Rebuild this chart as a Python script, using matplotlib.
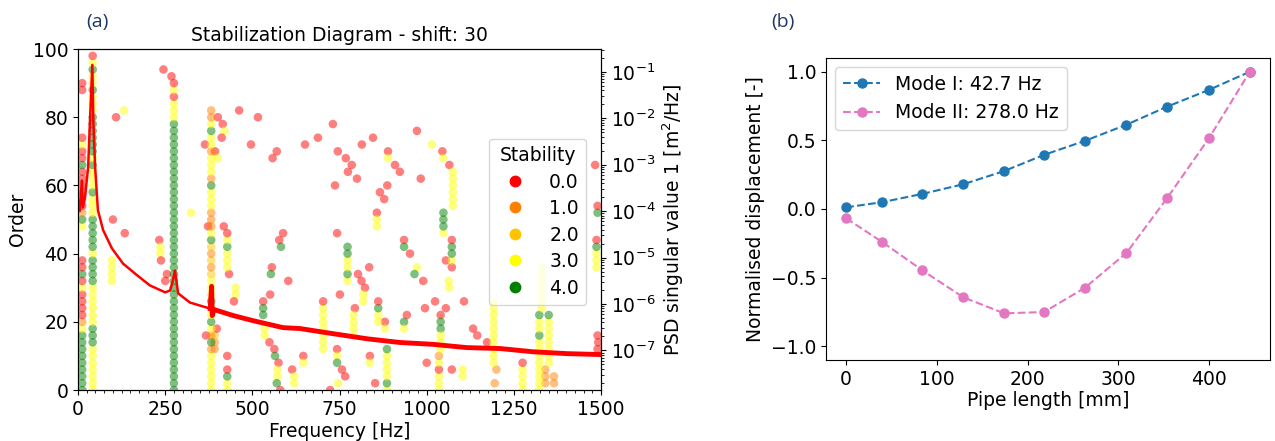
import numpy as np
import matplotlib
matplotlib.use('Agg')
import matplotlib.pyplot as plt
from matplotlib.lines import Line2D
from matplotlib.ticker import MultipleLocator, LogLocator, NullFormatter

# ---- (a) stabilization diagram data ----
stab_colors = ['red', '#ff8000', '#ffc400', 'yellow', 'green']
stab_labels = ['0.0', '1.0', '2.0', '3.0', '4.0']

# pole columns: frequency, first order, stability code per order step of 2 ('.' = no pole)
col_freq = [12, 42, 275, 382, 428, 428, 97, 703, 773, 861, 886, 1035, 1040,
            1048, 1075, 1192, 1275, 1323, 1350, 1487, 1330]
col_start = [0, 0, 0, 0, 0, 36, 32, 12, 32, 20, 0, 0, 12,
             46, 54, 8, 0, 0, 8, 36, 24]
col_codes = [
    "444444444" "31" "0000" "30400" "...." "34101" "0000" "40030" "......" "00",
    "3333333" "444" "333333" "4444" "3" "44444" "333" "4" "333" "4" "3" "444444" "333" "4" "33" "4" "3" "0",
    "4" * 40 + "33303" + "0",
    "333333" "1" "4" "1" "3" "4" "33" "4" "333" "21212" "4" "3" "111" "333" "4" "1" "33" "3" "1" "33" "4" "3" "11",
    "3340.0",
    "333430",
    "3333",
    "33333330",
    "343344",
    "3340",
    "3433334",
    "333031",
    "333",
    "3444",
    "333333",
    "3333333333",
    "33330",
    "333333334334",
    "33333334",
    "33340",
    "3333333",
]

# isolated poles: frequency, order, stability
pt_freq = [100, 134, 109, 132, 233, 236, 236, 238, 255, 250, 268, 245, 324,
           392, 392, 392, 367, 398, 373, 393, 364, 400, 401, 415, 420, 412,
           418, 433, 452, 452, 447, 462, 516, 496, 570, 558, 651, 688,
           731, 745, 768, 785, 774, 800, 737, 814, 846,
           972, 1015, 1045, 889, 889, 909, 923, 983, 887, 866, 878, 857, 857, 857,
           588, 577, 582, 603, 556, 553, 551, 531, 531, 531, 535, 535, 549, 563, 565,
           575, 572, 572, 570, 580, 614, 620, 620, 646, 646,
           743, 803, 813, 823, 835, 818, 818, 794, 790, 790, 790, 790, 751, 743, 743,
           743, 757, 766, 746, 723, 880, 880, 852, 837, 837,
           935, 935, 952, 972, 965, 990, 995, 943, 935, 935, 1000,
           1024, 1040, 1040, 1040, 1047, 1065,
           1072, 1055, 1072, 1072, 1072, 1072, 1063, 1065, 1055,
           1072, 1103, 1103, 1107, 1133, 1145, 1200, 1195, 1173,
           1340, 1340, 1340, 1365, 1365, 1490, 1490, 1483, 1490, 1492, 1490]
pt_order = [50, 46, 80, 82, 44, 42, 40, 38, 34, 32, 92, 94, 52,
            12, 14, 16, 16, 18, 48, 70, 72, 68, 80, 78, 76, 74,
            48, 34, 28, 30, 26, 82, 80, 72, 70, 68, 72, 74,
            78, 70, 68, 66, 64, 62, 60, 72, 74,
            76, 72, 70, 70, 68, 66, 64, 62, 60, 58, 56, 52, 50, 48,
            46, 44, 42, 32, 36, 34, 28, 26, 24, 22, 18, 16, 14, 12, 10,
            8, 6, 4, 2, 0, 6, 4, 2, 10, 8,
            46, 34, 32, 30, 36, 28, 26, 24, 22, 20, 18, 16, 28, 12, 10,
            8, 6, 4, 2, 0, 20, 18, 2, 10, 8,
            44, 42, 40, 36, 34, 32, 24, 22, 20, 18, 8,
            26, 22, 20, 18, 68, 66,
            36, 38, 38, 40, 42, 44, 32, 30, 24,
            6, 4, 6, 26, 18, 16, 6, 2, 14,
            2, 4, 6, 2, 4, 52, 54, 66, 12, 14, 16]
pt_stab = [0, 0, 0, 3, 0, 3, 3, 0, 0, 0, 0, 0, 3,
           1, 1, 2, 0, 0, 0, 0, 0, 3, 0, 0, 3, 0,
           0, 0, 3, 3, 0, 0, 0, 0, 0, 0, 0, 0,
           0, 0, 0, 0, 0, 0, 0, 0, 0,
           0, 3, 0, 0, 3, 0, 0, 0, 0, 0, 0, 0, 3, 3,
           0, 0, 4, 0, 0, 4, 0, 0, 4, 4, 3, 3, 0, 0, 4,
           0, 3, 3, 4, 0, 0, 3, 3, 0, 3,
           0, 0, 0, 0, 0, 3, 3, 0, 3, 3, 3, 3, 0, 0, 3,
           4, 0, 0, 3, 0, 0, 3, 0, 0, 3,
           0, 4, 0, 3, 4, 0, 0, 0, 4, 3, 0,
           0, 0, 4, 4, 3, 0,
           0, 0, 3, 4, 4, 0, 3, 3, 0,
           0, 3, 3, 0, 0, 0, 1, 1, 0,
           1, 1, 1, 1, 1, 4, 0, 0, 0, 0, 0]

# PSD first singular value (log10 of value)
psd_freq = [0, 5, 11, 14, 20, 29, 34, 41, 44, 49, 57, 72, 97, 129, 169, 206,
            250, 264, 272, 278, 287, 321, 379, 383, 385, 390, 445, 502, 588,
            637, 731, 829, 923, 1018, 1115, 1210, 1305, 1402, 1500]
psd_log = [-3.76, -4.0, -3.34, -3.92, -3.70, -3.05, -2.10, -0.85, -2.10, -3.05,
           -3.98, -4.41, -4.80, -5.13, -5.38, -5.60, -5.75, -5.71, -5.50, -5.28,
           -5.77, -5.97, -6.10, -5.62, -6.25, -6.12, -6.25, -6.36, -6.51,
           -6.53, -6.64, -6.75, -6.83, -6.87, -6.94, -6.96, -7.03, -7.07, -7.09]

# ---- (b) mode shapes ----
pipe_x = [0, 40, 84, 129, 174, 218, 263, 309, 354, 400, 445]
mode1 = [0.012, 0.05, 0.11, 0.18, 0.276, 0.394, 0.496, 0.614, 0.746, 0.868, 1.0]
mode2 = [-0.068, -0.242, -0.447, -0.643, -0.76, -0.751, -0.575, -0.32, 0.081, 0.516, 1.0]

fs = 13.5

# expand columns into points
sf, so, ss = list(pt_freq), list(pt_order), list(pt_stab)
for f, st, codes in zip(col_freq, col_start, col_codes):
    for i, ch in enumerate(codes):
        if ch != '.':
            sf.append(f)
            so.append(st + 2 * i)
            ss.append(int(ch))

fig = plt.figure(figsize=(12.75, 4.41), dpi=100)

ax1 = fig.add_axes([0.0612, 0.1156, 0.4102, 0.7732])
ax1.scatter(sf, so, c=[stab_colors[s] for s in ss], s=38, alpha=0.5, edgecolors='none')
ax1.set_xlim(0, 1500)
ax1.set_ylim(0, 100)
ax1.set_xticks([0, 250, 500, 750, 1000, 1250, 1500])
ax1.xaxis.set_minor_locator(MultipleLocator(25))
ax1.set_xlabel('Frequency [Hz]', fontsize=fs, labelpad=2)
ax1.set_ylabel('Order', fontsize=fs)
ax1.tick_params(labelsize=fs)
ax1.set_title('Stabilization Diagram - shift: 30', fontsize=fs)

ax2 = ax1.twinx()
psd = 10 ** np.array(psd_log)
ax2.plot(psd_freq, psd, color='red', lw=1.8)
ax2.plot(psd_freq[22:], psd[22:], color='red', lw=3.5)  # noisy band at high frequency
ax2.set_yscale('log')
ax2.set_ylim(1.4e-8, 0.31)
ax2.set_yticks([1e-7, 1e-6, 1e-5, 1e-4, 1e-3, 1e-2, 1e-1])
ax2.yaxis.set_minor_locator(LogLocator(base=10, subs=np.arange(2, 10), numticks=100))
ax2.yaxis.set_minor_formatter(NullFormatter())
ax2.tick_params(labelsize=fs)
ax2.set_ylabel('PSD singular value 1 [m$^2$/Hz]', fontsize=fs)

handles = [Line2D([], [], ls='none', marker='o', ms=7.5, color=c) for c in stab_colors]
ax2.legend(handles, stab_labels, title='Stability', fontsize=fs, title_fontsize=fs,
           loc='upper right', bbox_to_anchor=(0.99, 0.765), handletextpad=0.8,
           labelspacing=0.4)

ax3 = fig.add_axes([826 / 1275, 0.1837, 444 / 1275, 0.6848])
ax3.plot(pipe_x, mode1, '--o', color='#1f77b4', ms=6.5, label='Mode I: 42.7 Hz')
ax3.plot(pipe_x, mode2, '--o', color='#e377c2', ms=6.5, label='Mode II: 278.0 Hz')
ax3.set_ylim(-1.1, 1.1)
ax3.set_yticks([-1.0, -0.5, 0.0, 0.5, 1.0])
ax3.set_xlabel('Pipe length [mm]', fontsize=fs, labelpad=2)
ax3.set_ylabel('Normalised displacement [-]', fontsize=fs)
ax3.tick_params(labelsize=fs)
ax3.legend(loc='upper left', fontsize=fs)

fig.text(97 / 1275, 1 - 22 / 441, '(a)', fontsize=14, color='#1f3864',
         family='Open Sans', ha='center', va='center')
fig.text(783 / 1275, 1 - 22 / 441, '(b)', fontsize=14, color='#1f3864',
         family='Open Sans', ha='center', va='center')

fig.savefig('out.png', dpi=100)
